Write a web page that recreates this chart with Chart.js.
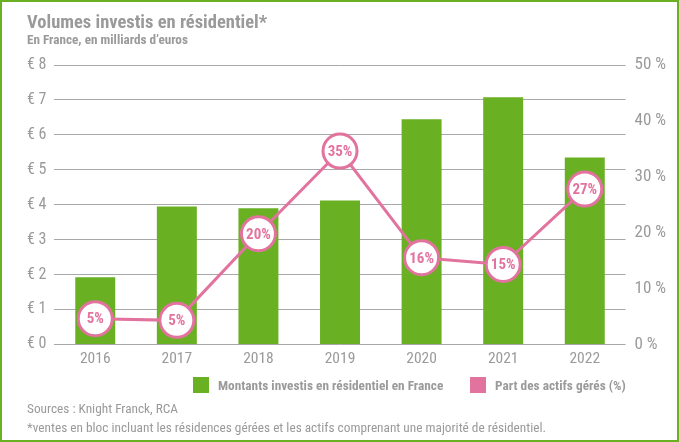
<!DOCTYPE html>
<html>
<head>
<meta charset="utf-8">
<script src="https://cdn.jsdelivr.net/npm/chart.js@4.4.1/dist/chart.umd.min.js"></script>
<style>
  html, body { margin: 0; padding: 0; background: #fff; }
  #frame {
    position: relative; width: 679px; height: 442px;
    box-sizing: border-box; border: 2px solid #6ab023; overflow: hidden;
    font-family: "Liberation Sans Narrow", "Roboto Condensed", Roboto, sans-serif;
    color: #9a9a9a;
  }
  #chart { position: absolute; left: 0; top: 0; }
  .title { position: absolute; left: 25px; top: 10px; font-size: 18.5px; font-weight: bold; line-height: 1.1; white-space: nowrap; }
  .subtitle { position: absolute; left: 25px; top: 31px; font-size: 13.2px; font-weight: bold; line-height: 1.1; white-space: nowrap; }
  .note { position: absolute; left: 25px; font-size: 13.3px; white-space: nowrap; }
  .leg { position: absolute; top: 375px; height: 16px; display: flex; align-items: center;
         font-size: 13.3px; font-weight: bold; white-space: nowrap; }
  .leg span.box { display: inline-block; width: 16px; height: 16px; margin-right: 9px; }
</style>
</head>
<body>
<div id="frame">
  <canvas id="chart" width="675" height="438"></canvas>
  <div class="title">Volumes investis en résidentiel*</div>
  <div class="subtitle">En France, en milliards d’euros</div>
  <div class="leg" style="left:191px"><span class="box" style="background:#6ab023"></span>Montants investis en résidentiel en France</div>
  <div class="leg" style="left:468px"><span class="box" style="background:#e2739e"></span>Part des actifs gérés (%)</div>
  <div class="note" style="top:399px">Sources : Knight Franck, RCA</div>
  <div class="note" style="top:418px">*ventes en bloc incluant les résidences gérées et les actifs comprenant une majorité de résidentiel.</div>
</div>
<script>
// --- Données ---
const years = ["2016", "2017", "2018", "2019", "2020", "2021", "2022"];
const montants = [1.92, 3.95, 3.9, 4.12, 6.45, 7.08, 5.35];     // milliards d'euros
const partGeres = [4.6, 4.3, 19.8, 34.6, 15.5, 14.3, 27.8];     // position des points (%)
const partLabels = ["5%", "5%", "20%", "35%", "16%", "15%", "27%"];

const green = "#6ab023";
const pink = "#e2739e";
const grey = "#9a9a9a";
const fontFam = '"Liberation Sans Narrow", "Roboto Condensed", Roboto, sans-serif';

// --- Plugin : texte dans les ronds ---
const pointLabels = {
  id: "pointLabels",
  afterDatasetsDraw(chart) {
    const meta = chart.getDatasetMeta(1);
    const ctx = chart.ctx;
    ctx.save();
    ctx.fillStyle = pink;
    ctx.font = "bold 15px " + fontFam;
    ctx.textAlign = "center";
    ctx.textBaseline = "middle";
    meta.data.forEach((pt, i) => {
      ctx.fillText(partLabels[i], pt.x, pt.y + 1);
    });
    ctx.restore();
  },
};

new Chart(document.getElementById("chart"), {
  data: {
    labels: years,
    datasets: [
      {
        type: "bar",
        label: "Montants investis en résidentiel en France",
        data: montants,
        backgroundColor: green,
        yAxisID: "y",
        barPercentage: 0.49,
        categoryPercentage: 1,
        order: 2,
      },
      {
        type: "line",
        label: "Part des actifs gérés (%)",
        data: partGeres,
        borderColor: pink,
        backgroundColor: pink,
        borderWidth: 3,
        pointRadius: 17,
        pointBorderWidth: 3,
        pointBackgroundColor: "#fff",
        pointBorderColor: pink,
        yAxisID: "y1",
        tension: 0,
        order: 1,
      },
    ],
  },
  options: {
    responsive: false,
    animation: false,
    layout: { padding: { left: 17, right: 2, top: 63, bottom: 67 } },
    plugins: {
      legend: { display: false },
      tooltip: { enabled: false },
    },
    scales: {
      x: {
        grid: { display: false, drawTicks: false },
        border: { display: false },
        ticks: { color: grey, font: { family: fontFam, size: 15.5 }, padding: 5 },
      },
      y: {
        position: "left", min: 0, max: 8,
        ticks: { stepSize: 1, color: grey, font: { family: fontFam, size: 16 },
          padding: 8, callback: (v) => "€ " + v },
        grid: { color: "#a8a8a8", lineWidth: 1, drawTicks: false },
        border: { display: false },
      },
      y1: {
        position: "right", min: 0, max: 50,
        ticks: { stepSize: 10, color: grey, font: { family: fontFam, size: 17 },
          padding: 9, callback: (v) => v + " %" },
        grid: { display: false, drawTicks: false },
        border: { display: false },
      },
    },
  },
  plugins: [pointLabels],
});
</script>
</body>
</html>
